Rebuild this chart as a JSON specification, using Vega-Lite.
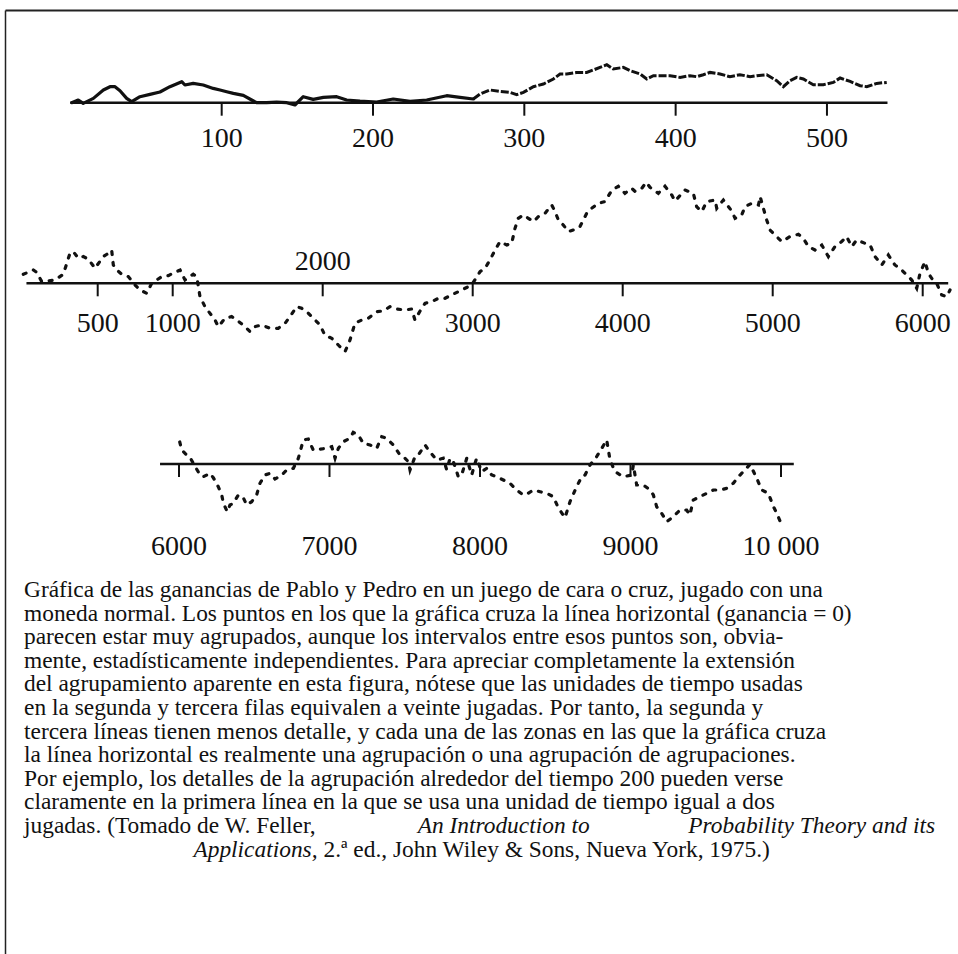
{
  "$schema": "https://vega.github.io/schema/vega-lite/v6.json",
  "width": 958,
  "height": 954,
  "autosize": {"type": "fit", "contains": "padding"},
  "padding": {"left": 5, "top": 10, "right": 0, "bottom": 0},
  "background": "white",
  "config": {"view": {"stroke": null}, "text": {"font": "Liberation Serif", "color": "#111"}},
  "datasets": {
    "fila1": [
      {"tiempo": 0.9, "ganancia": 0}, {"tiempo": 5.2, "ganancia": 2.7}, {"tiempo": 8.5, "ganancia": -0.7}, {"tiempo": 15.2, "ganancia": 4.3},
      {"tiempo": 21.8, "ganancia": 12.7}, {"tiempo": 26.2, "ganancia": 16}, {"tiempo": 29.5, "ganancia": 16}, {"tiempo": 32.8, "ganancia": 12},
      {"tiempo": 37.2, "ganancia": 4.3}, {"tiempo": 40.5, "ganancia": 1}, {"tiempo": 46, "ganancia": 6}, {"tiempo": 52.6, "ganancia": 8.3},
      {"tiempo": 59.2, "ganancia": 10.7}, {"tiempo": 65.8, "ganancia": 16}, {"tiempo": 73.6, "ganancia": 21}, {"tiempo": 75.7, "ganancia": 17.7},
      {"tiempo": 81.2, "ganancia": 19.3}, {"tiempo": 87.8, "ganancia": 17.7}, {"tiempo": 94.4, "ganancia": 14.3}, {"tiempo": 98.9, "ganancia": 12.7},
      {"tiempo": 103.3, "ganancia": 11}, {"tiempo": 107.7, "ganancia": 9.3}, {"tiempo": 114.3, "ganancia": 7.3}, {"tiempo": 119.8, "ganancia": 2.7},
      {"tiempo": 123.1, "ganancia": 0}, {"tiempo": 129.7, "ganancia": 0}, {"tiempo": 136.3, "ganancia": 0.5}, {"tiempo": 143, "ganancia": 0},
      {"tiempo": 148.4, "ganancia": -2.3}, {"tiempo": 153.9, "ganancia": 6}, {"tiempo": 160.5, "ganancia": 3.3}, {"tiempo": 167.2, "ganancia": 5.3},
      {"tiempo": 176, "ganancia": 6}, {"tiempo": 182.6, "ganancia": 2.7}, {"tiempo": 191.4, "ganancia": 1.5}, {"tiempo": 202.4, "ganancia": 0.7},
      {"tiempo": 213.4, "ganancia": 3.7}, {"tiempo": 224.5, "ganancia": 1.3}, {"tiempo": 235.5, "ganancia": 2.7}, {"tiempo": 248.7, "ganancia": 7},
      {"tiempo": 257.5, "ganancia": 5.3}, {"tiempo": 266.3, "ganancia": 3.7}, {"tiempo": 270.7, "ganancia": 8.7}, {"tiempo": 277.3, "ganancia": 12.7},
      {"tiempo": 283.9, "ganancia": 11.3}, {"tiempo": 290.5, "ganancia": 10.3}, {"tiempo": 295, "ganancia": 8}, {"tiempo": 299.4, "ganancia": 10.3},
      {"tiempo": 306, "ganancia": 16}, {"tiempo": 312.6, "ganancia": 18.7}, {"tiempo": 319.2, "ganancia": 23.7}, {"tiempo": 323.6, "ganancia": 28.7},
      {"tiempo": 328, "ganancia": 28.7}, {"tiempo": 334.6, "ganancia": 30.3}, {"tiempo": 341.2, "ganancia": 30.3}, {"tiempo": 345.6, "ganancia": 32.7},
      {"tiempo": 350, "ganancia": 35.3}, {"tiempo": 354.5, "ganancia": 38}, {"tiempo": 358.8, "ganancia": 33.7}, {"tiempo": 365.4, "ganancia": 35.3},
      {"tiempo": 369.9, "ganancia": 32}, {"tiempo": 376.5, "ganancia": 28.7}, {"tiempo": 380.9, "ganancia": 23.7}, {"tiempo": 385.3, "ganancia": 27},
      {"tiempo": 389.7, "ganancia": 27}, {"tiempo": 396.3, "ganancia": 27}, {"tiempo": 402.9, "ganancia": 25.3}, {"tiempo": 409.5, "ganancia": 27},
      {"tiempo": 413.9, "ganancia": 26}, {"tiempo": 418.3, "ganancia": 28}, {"tiempo": 422.7, "ganancia": 30.3}, {"tiempo": 429.3, "ganancia": 28.7},
      {"tiempo": 435.9, "ganancia": 26}, {"tiempo": 442.5, "ganancia": 28}, {"tiempo": 449.2, "ganancia": 26}, {"tiempo": 453.6, "ganancia": 27},
      {"tiempo": 460.2, "ganancia": 28}, {"tiempo": 466.8, "ganancia": 22}, {"tiempo": 471.2, "ganancia": 16}, {"tiempo": 475.6, "ganancia": 22},
      {"tiempo": 480, "ganancia": 25.3}, {"tiempo": 484.4, "ganancia": 23.7}, {"tiempo": 491, "ganancia": 18}, {"tiempo": 497.6, "ganancia": 18},
      {"tiempo": 504.2, "ganancia": 20.3}, {"tiempo": 508.7, "ganancia": 24.7}, {"tiempo": 515.3, "ganancia": 21.3}, {"tiempo": 521.9, "ganancia": 17},
      {"tiempo": 526.3, "ganancia": 16}, {"tiempo": 532.9, "ganancia": 19.3}, {"tiempo": 539.5, "ganancia": 20.3}
    ],
    "fila2": [
      {"tiempo": 4, "ganancia": 9}, {"tiempo": 71, "ganancia": 13.3}, {"tiempo": 93, "ganancia": 11}, {"tiempo": 127, "ganancia": 1.7},
      {"tiempo": 171, "ganancia": 2.3}, {"tiempo": 215, "ganancia": 3.3}, {"tiempo": 271, "ganancia": 9}, {"tiempo": 315, "ganancia": 30},
      {"tiempo": 337, "ganancia": 31.7}, {"tiempo": 371, "ganancia": 25}, {"tiempo": 404, "ganancia": 26.7}, {"tiempo": 437, "ganancia": 24.3},
      {"tiempo": 482, "ganancia": 15}, {"tiempo": 537, "ganancia": 26.7}, {"tiempo": 571, "ganancia": 30}, {"tiempo": 593, "ganancia": 33.3},
      {"tiempo": 604, "ganancia": 18.3}, {"tiempo": 627, "ganancia": 13.3}, {"tiempo": 660, "ganancia": 9}, {"tiempo": 704, "ganancia": 6.7},
      {"tiempo": 749, "ganancia": -1.7}, {"tiempo": 782, "ganancia": -6.7}, {"tiempo": 827, "ganancia": -10}, {"tiempo": 860, "ganancia": 0},
      {"tiempo": 927, "ganancia": 6.7}, {"tiempo": 971, "ganancia": 7.7}, {"tiempo": 1015, "ganancia": 11}, {"tiempo": 1049, "ganancia": 13.3},
      {"tiempo": 1082, "ganancia": 3.3}, {"tiempo": 1137, "ganancia": 9}, {"tiempo": 1160, "ganancia": 6.7}, {"tiempo": 1182, "ganancia": -13.3},
      {"tiempo": 1215, "ganancia": -23.3}, {"tiempo": 1282, "ganancia": -36.7}, {"tiempo": 1304, "ganancia": -43.3}, {"tiempo": 1349, "ganancia": -35},
      {"tiempo": 1393, "ganancia": -33.3}, {"tiempo": 1427, "ganancia": -36.7}, {"tiempo": 1482, "ganancia": -43.3}, {"tiempo": 1515, "ganancia": -48.3},
      {"tiempo": 1549, "ganancia": -43.3}, {"tiempo": 1593, "ganancia": -41.7}, {"tiempo": 1649, "ganancia": -45}, {"tiempo": 1704, "ganancia": -45},
      {"tiempo": 1749, "ganancia": -40}, {"tiempo": 1782, "ganancia": -33.3}, {"tiempo": 1827, "ganancia": -23.3}, {"tiempo": 1860, "ganancia": -25},
      {"tiempo": 1904, "ganancia": -30}, {"tiempo": 1949, "ganancia": -36.7}, {"tiempo": 1982, "ganancia": -41.7}, {"tiempo": 2015, "ganancia": -52},
      {"tiempo": 2060, "ganancia": -55}, {"tiempo": 2104, "ganancia": -61.7}, {"tiempo": 2149, "ganancia": -68.3}, {"tiempo": 2182, "ganancia": -56.7},
      {"tiempo": 2215, "ganancia": -40}, {"tiempo": 2260, "ganancia": -36.7}, {"tiempo": 2304, "ganancia": -35}, {"tiempo": 2360, "ganancia": -28.3},
      {"tiempo": 2404, "ganancia": -27.7}, {"tiempo": 2449, "ganancia": -23.3}, {"tiempo": 2493, "ganancia": -25.7}, {"tiempo": 2549, "ganancia": -26.7},
      {"tiempo": 2593, "ganancia": -25.7}, {"tiempo": 2615, "ganancia": -36.7}, {"tiempo": 2649, "ganancia": -27.7}, {"tiempo": 2682, "ganancia": -20},
      {"tiempo": 2727, "ganancia": -18.3}, {"tiempo": 2771, "ganancia": -15}, {"tiempo": 2815, "ganancia": -15}, {"tiempo": 2860, "ganancia": -11.7},
      {"tiempo": 2904, "ganancia": -8.3}, {"tiempo": 2949, "ganancia": -5}, {"tiempo": 2993, "ganancia": -1.7}, {"tiempo": 3049, "ganancia": 11.7},
      {"tiempo": 3082, "ganancia": 15}, {"tiempo": 3115, "ganancia": 23.3}, {"tiempo": 3149, "ganancia": 33.3}, {"tiempo": 3182, "ganancia": 41.7},
      {"tiempo": 3227, "ganancia": 38.3}, {"tiempo": 3260, "ganancia": 40}, {"tiempo": 3282, "ganancia": 55}, {"tiempo": 3304, "ganancia": 65},
      {"tiempo": 3338, "ganancia": 68.3}, {"tiempo": 3371, "ganancia": 65}, {"tiempo": 3404, "ganancia": 61.7}, {"tiempo": 3438, "ganancia": 66.7},
      {"tiempo": 3482, "ganancia": 70}, {"tiempo": 3527, "ganancia": 78.3}, {"tiempo": 3549, "ganancia": 71.7}, {"tiempo": 3571, "ganancia": 63.3},
      {"tiempo": 3604, "ganancia": 58.3}, {"tiempo": 3638, "ganancia": 51.7}, {"tiempo": 3671, "ganancia": 53.3}, {"tiempo": 3715, "ganancia": 56.7},
      {"tiempo": 3760, "ganancia": 70}, {"tiempo": 3793, "ganancia": 75}, {"tiempo": 3838, "ganancia": 80}, {"tiempo": 3882, "ganancia": 81.7},
      {"tiempo": 3927, "ganancia": 93}, {"tiempo": 3971, "ganancia": 97}, {"tiempo": 4015, "ganancia": 90}, {"tiempo": 4060, "ganancia": 95},
      {"tiempo": 4082, "ganancia": 92}, {"tiempo": 4127, "ganancia": 95}, {"tiempo": 4157, "ganancia": 101}, {"tiempo": 4182, "ganancia": 96},
      {"tiempo": 4238, "ganancia": 90}, {"tiempo": 4282, "ganancia": 97}, {"tiempo": 4327, "ganancia": 88.3}, {"tiempo": 4349, "ganancia": 82.3},
      {"tiempo": 4415, "ganancia": 93.3}, {"tiempo": 4471, "ganancia": 90}, {"tiempo": 4493, "ganancia": 76.7}, {"tiempo": 4527, "ganancia": 71.7},
      {"tiempo": 4560, "ganancia": 81.7}, {"tiempo": 4616, "ganancia": 83.3}, {"tiempo": 4627, "ganancia": 75}, {"tiempo": 4671, "ganancia": 83.3},
      {"tiempo": 4727, "ganancia": 72.3}, {"tiempo": 4749, "ganancia": 65}, {"tiempo": 4793, "ganancia": 68.3}, {"tiempo": 4816, "ganancia": 76.7},
      {"tiempo": 4860, "ganancia": 80}, {"tiempo": 4905, "ganancia": 78.3}, {"tiempo": 4916, "ganancia": 86.7}, {"tiempo": 4960, "ganancia": 63.3},
      {"tiempo": 4982, "ganancia": 53.3}, {"tiempo": 5015, "ganancia": 48.3}, {"tiempo": 5060, "ganancia": 41.7}, {"tiempo": 5115, "ganancia": 46.7},
      {"tiempo": 5171, "ganancia": 49}, {"tiempo": 5204, "ganancia": 45}, {"tiempo": 5238, "ganancia": 36.7}, {"tiempo": 5282, "ganancia": 33.3},
      {"tiempo": 5327, "ganancia": 38.3}, {"tiempo": 5371, "ganancia": 26.7}, {"tiempo": 5415, "ganancia": 36.7}, {"tiempo": 5460, "ganancia": 41.7},
      {"tiempo": 5493, "ganancia": 46.7}, {"tiempo": 5527, "ganancia": 36.7}, {"tiempo": 5560, "ganancia": 43.3}, {"tiempo": 5615, "ganancia": 40},
      {"tiempo": 5649, "ganancia": 38.3}, {"tiempo": 5682, "ganancia": 26.7}, {"tiempo": 5727, "ganancia": 18.3}, {"tiempo": 5771, "ganancia": 28.3},
      {"tiempo": 5815, "ganancia": 18.3}, {"tiempo": 5860, "ganancia": 13.3}, {"tiempo": 5893, "ganancia": 8.3}, {"tiempo": 5927, "ganancia": 3.3},
      {"tiempo": 5960, "ganancia": -5}, {"tiempo": 5982, "ganancia": 10}, {"tiempo": 6015, "ganancia": 21.7}, {"tiempo": 6038, "ganancia": 10},
      {"tiempo": 6060, "ganancia": 5}, {"tiempo": 6093, "ganancia": 0}, {"tiempo": 6127, "ganancia": -11.7}, {"tiempo": 6160, "ganancia": -13.3},
      {"tiempo": 6182, "ganancia": -6.7}
    ],
    "fila3": [
      {"tiempo": 6005, "ganancia": 22}, {"tiempo": 6018, "ganancia": 14}, {"tiempo": 6051, "ganancia": 9}, {"tiempo": 6073, "ganancia": 6.7},
      {"tiempo": 6095, "ganancia": 0.7}, {"tiempo": 6140, "ganancia": -11}, {"tiempo": 6162, "ganancia": -12.7}, {"tiempo": 6206, "ganancia": -9.3},
      {"tiempo": 6228, "ganancia": -13.7}, {"tiempo": 6261, "ganancia": -22.7}, {"tiempo": 6284, "ganancia": -31}, {"tiempo": 6295, "ganancia": -39.3},
      {"tiempo": 6321, "ganancia": -47.7}, {"tiempo": 6339, "ganancia": -41}, {"tiempo": 6361, "ganancia": -39.3}, {"tiempo": 6394, "ganancia": -31},
      {"tiempo": 6427, "ganancia": -33.7}, {"tiempo": 6450, "ganancia": -41}, {"tiempo": 6483, "ganancia": -37.7}, {"tiempo": 6516, "ganancia": -31},
      {"tiempo": 6538, "ganancia": -19.3}, {"tiempo": 6571, "ganancia": -11}, {"tiempo": 6605, "ganancia": -9.3}, {"tiempo": 6638, "ganancia": -15},
      {"tiempo": 6682, "ganancia": -11}, {"tiempo": 6716, "ganancia": -6}, {"tiempo": 6760, "ganancia": -4.3}, {"tiempo": 6782, "ganancia": 2.3},
      {"tiempo": 6793, "ganancia": 5.7}, {"tiempo": 6826, "ganancia": 24}, {"tiempo": 6859, "ganancia": 25}, {"tiempo": 6892, "ganancia": 14},
      {"tiempo": 6981, "ganancia": 15.7}, {"tiempo": 7015, "ganancia": 17.3}, {"tiempo": 7037, "ganancia": 5.7}, {"tiempo": 7059, "ganancia": 15.7},
      {"tiempo": 7092, "ganancia": 22.3}, {"tiempo": 7136, "ganancia": 25.7}, {"tiempo": 7158, "ganancia": 31.7}, {"tiempo": 7191, "ganancia": 29},
      {"tiempo": 7225, "ganancia": 20.7}, {"tiempo": 7269, "ganancia": 19}, {"tiempo": 7314, "ganancia": 15.7}, {"tiempo": 7347, "ganancia": 27.3},
      {"tiempo": 7380, "ganancia": 25.7}, {"tiempo": 7424, "ganancia": 19}, {"tiempo": 7468, "ganancia": 9}, {"tiempo": 7502, "ganancia": 5.7},
      {"tiempo": 7524, "ganancia": 2.3}, {"tiempo": 7535, "ganancia": -6}, {"tiempo": 7568, "ganancia": 7.3}, {"tiempo": 7590, "ganancia": 9},
      {"tiempo": 7635, "ganancia": 19}, {"tiempo": 7657, "ganancia": 14}, {"tiempo": 7712, "ganancia": 4}, {"tiempo": 7756, "ganancia": 5.7},
      {"tiempo": 7779, "ganancia": -6}, {"tiempo": 7801, "ganancia": 5.7}, {"tiempo": 7823, "ganancia": 2.3}, {"tiempo": 7856, "ganancia": -12.7},
      {"tiempo": 7878, "ganancia": -11}, {"tiempo": 7912, "ganancia": 5.7}, {"tiempo": 7945, "ganancia": -11}, {"tiempo": 7967, "ganancia": 0.7},
      {"tiempo": 7978, "ganancia": 5.7}, {"tiempo": 8011, "ganancia": -7.7}, {"tiempo": 8045, "ganancia": -4.3}, {"tiempo": 8078, "ganancia": -11},
      {"tiempo": 8111, "ganancia": -12.7}, {"tiempo": 8155, "ganancia": -16}, {"tiempo": 8199, "ganancia": -19.3}, {"tiempo": 8244, "ganancia": -26},
      {"tiempo": 8288, "ganancia": -31}, {"tiempo": 8321, "ganancia": -29.3}, {"tiempo": 8354, "ganancia": -26}, {"tiempo": 8399, "ganancia": -27.7},
      {"tiempo": 8443, "ganancia": -29.3}, {"tiempo": 8487, "ganancia": -32.7}, {"tiempo": 8520, "ganancia": -43.7}, {"tiempo": 8565, "ganancia": -53.7},
      {"tiempo": 8598, "ganancia": -37.7}, {"tiempo": 8642, "ganancia": -22.7}, {"tiempo": 8676, "ganancia": -12.7}, {"tiempo": 8698, "ganancia": -11},
      {"tiempo": 8731, "ganancia": -1}, {"tiempo": 8775, "ganancia": 7.3}, {"tiempo": 8809, "ganancia": 15.7}, {"tiempo": 8842, "ganancia": 24},
      {"tiempo": 8864, "ganancia": 4}, {"tiempo": 8897, "ganancia": -7.7}, {"tiempo": 8952, "ganancia": -12.7}, {"tiempo": 9008, "ganancia": -11},
      {"tiempo": 9019, "ganancia": -1}, {"tiempo": 9041, "ganancia": -21}, {"tiempo": 9085, "ganancia": -21}, {"tiempo": 9130, "ganancia": -26},
      {"tiempo": 9152, "ganancia": -31}, {"tiempo": 9174, "ganancia": -42.7}, {"tiempo": 9207, "ganancia": -49.3}, {"tiempo": 9241, "ganancia": -57.7},
      {"tiempo": 9284, "ganancia": -52.7}, {"tiempo": 9329, "ganancia": -46}, {"tiempo": 9373, "ganancia": -46}, {"tiempo": 9395, "ganancia": -51},
      {"tiempo": 9417, "ganancia": -36}, {"tiempo": 9462, "ganancia": -32.7}, {"tiempo": 9506, "ganancia": -29.3}, {"tiempo": 9551, "ganancia": -26},
      {"tiempo": 9595, "ganancia": -26}, {"tiempo": 9639, "ganancia": -24.3}, {"tiempo": 9683, "ganancia": -19.3}, {"tiempo": 9728, "ganancia": -11},
      {"tiempo": 9761, "ganancia": -6}, {"tiempo": 9794, "ganancia": -0.3}, {"tiempo": 9839, "ganancia": -14.3}, {"tiempo": 9872, "ganancia": -26},
      {"tiempo": 9916, "ganancia": -29.3}, {"tiempo": 9950, "ganancia": -42.7}, {"tiempo": 9972, "ganancia": -49.3}, {"tiempo": 10005, "ganancia": -61}
    ],
    "marcas1": [
      {"tiempo": 100, "etiqueta": "100"}, {"tiempo": 200, "etiqueta": "200"}, {"tiempo": 300, "etiqueta": "300"},
      {"tiempo": 400, "etiqueta": "400"}, {"tiempo": 500, "etiqueta": "500"}
    ],
    "marcas2": [
      {"tiempo": 500, "etiqueta": "500"}, {"tiempo": 1000, "etiqueta": "1000"}, {"tiempo": 2000, "etiqueta": "2000"},
      {"tiempo": 3000, "etiqueta": "3000"}, {"tiempo": 4000, "etiqueta": "4000"}, {"tiempo": 5000, "etiqueta": "5000"},
      {"tiempo": 6000, "etiqueta": "6000"}
    ],
    "marcas3": [
      {"tiempo": 6000, "etiqueta": "6000"}, {"tiempo": 7000, "etiqueta": "7000"}, {"tiempo": 8000, "etiqueta": "8000"},
      {"tiempo": 9000, "etiqueta": "9000"}, {"tiempo": 10000, "etiqueta": "10 000"}
    ],
    "pie": [
      {"linea": 1, "parte": "normal", "texto": "Gráfica de las ganancias de Pablo y Pedro en un juego de cara o cruz, jugado con una"},
      {"linea": 2, "parte": "normal", "texto": "moneda normal. Los puntos en los que la gráfica cruza la línea horizontal (ganancia = 0)"},
      {"linea": 3, "parte": "normal", "texto": "parecen estar muy agrupados, aunque los intervalos entre esos puntos son, obvia-"},
      {"linea": 4, "parte": "normal", "texto": "mente, estadísticamente independientes. Para apreciar completamente la extensión"},
      {"linea": 5, "parte": "normal", "texto": "del agrupamiento aparente en esta figura, nótese que las unidades de tiempo usadas"},
      {"linea": 6, "parte": "normal", "texto": "en la segunda y tercera filas equivalen a veinte jugadas. Por tanto, la segunda y"},
      {"linea": 7, "parte": "normal", "texto": "tercera líneas tienen menos detalle, y cada una de las zonas en las que la gráfica cruza"},
      {"linea": 8, "parte": "normal", "texto": "la línea horizontal es realmente una agrupación o una agrupación de agrupaciones."},
      {"linea": 9, "parte": "normal", "texto": "Por ejemplo, los detalles de la agrupación alrededor del tiempo 200 pueden verse"},
      {"linea": 10, "parte": "normal", "texto": "claramente en la primera línea en la que se usa una unidad de tiempo igual a dos"},
      {"linea": 11, "parte": "normal", "texto": "jugadas. (Tomado de W. Feller,"},
      {"linea": 11, "parte": "cursiva_medio", "texto": "An Introduction to"},
      {"linea": 11, "parte": "cursiva_fin", "texto": "Probability Theory and its"},
      {"linea": 12, "parte": "cursiva_ini", "texto": "Applications,"},
      {"linea": 12, "parte": "cola", "texto": "2.ª ed., John Wiley & Sons, Nueva York, 1975.)"}
    ]
  },
  "layer": [
    {
      "layer": [
        {
          "data": {"name": "fila1"},
          "transform": [{"filter": "datum.tiempo <= 268"}],
          "mark": {"type": "line", "color": "#111", "strokeWidth": 3.2, "strokeJoin": "round", "strokeCap": "round"},
          "encoding": {
            "x": {"field": "tiempo", "type": "quantitative", "scale": {"domain": [-43.2, 586.6], "nice": false, "zero": false}, "axis": null},
            "y": {"field": "ganancia", "type": "quantitative", "scale": {"domain": [-851.3, 92.7], "nice": false, "zero": false}, "axis": null}
          }
        },
        {
          "data": {"name": "fila1"},
          "transform": [{"filter": "datum.tiempo >= 266"}],
          "mark": {"type": "line", "color": "#111", "strokeWidth": 3, "strokeDash": [8, 2]},
          "encoding": {
            "x": {"field": "tiempo", "type": "quantitative", "axis": null},
            "y": {"field": "ganancia", "type": "quantitative", "axis": null}
          }
        },
        {
          "data": {"values": [{}]},
          "mark": {"type": "rule", "color": "#111", "strokeWidth": 2.5},
          "encoding": {
            "x": {"datum": 0, "type": "quantitative", "axis": null},
            "x2": {"datum": 540},
            "y": {"datum": 0, "type": "quantitative", "axis": null}
          }
        },
        {
          "data": {"name": "marcas1"},
          "mark": {"type": "rule", "color": "#111", "strokeWidth": 2},
          "encoding": {
            "x": {"field": "tiempo", "type": "quantitative", "axis": null},
            "y": {"datum": 0, "type": "quantitative", "axis": null},
            "y2": {"datum": -13}
          }
        },
        {
          "data": {"name": "marcas1"},
          "mark": {"type": "text", "fontSize": 28, "baseline": "alphabetic", "dy": 44},
          "encoding": {
            "x": {"field": "tiempo", "type": "quantitative", "axis": null},
            "y": {"datum": 0, "type": "quantitative", "axis": null},
            "text": {"field": "etiqueta"}
          }
        }
      ]
    },
    {
      "layer": [
        {
          "data": {"name": "fila2"},
          "mark": {"type": "line", "color": "#111", "strokeWidth": 3.2, "strokeDash": [3, 8], "strokeCap": "round"},
          "encoding": {
            "x": {"field": "tiempo", "type": "quantitative", "scale": {"domain": [-118, 6235.3], "nice": false, "zero": false}, "axis": null},
            "y": {"field": "ganancia", "type": "quantitative", "scale": {"domain": [-670.7, 273.3], "nice": false, "zero": false}, "axis": null}
          }
        },
        {
          "data": {"values": [{}]},
          "mark": {"type": "rule", "color": "#111", "strokeWidth": 2.5},
          "encoding": {
            "x": {"datum": 25, "type": "quantitative", "axis": null},
            "x2": {"datum": 6170},
            "y": {"datum": 0, "type": "quantitative", "axis": null}
          }
        },
        {
          "data": {"name": "marcas2"},
          "mark": {"type": "rule", "color": "#111", "strokeWidth": 2},
          "encoding": {
            "x": {"field": "tiempo", "type": "quantitative", "axis": null},
            "y": {"datum": 0, "type": "quantitative", "axis": null},
            "y2": {"datum": -13}
          }
        },
        {
          "data": {"name": "marcas2"},
          "transform": [{"filter": "datum.tiempo != 2000"}],
          "mark": {"type": "text", "fontSize": 28, "baseline": "alphabetic", "dy": 49},
          "encoding": {
            "x": {"field": "tiempo", "type": "quantitative", "axis": null},
            "y": {"datum": 0, "type": "quantitative", "axis": null},
            "text": {"field": "etiqueta"}
          }
        },
        {
          "data": {"name": "marcas2"},
          "transform": [{"filter": "datum.tiempo == 2000"}],
          "mark": {"type": "text", "fontSize": 28, "baseline": "alphabetic", "dy": -13},
          "encoding": {
            "x": {"field": "tiempo", "type": "quantitative", "axis": null},
            "y": {"datum": 0, "type": "quantitative", "axis": null},
            "text": {"field": "etiqueta"}
          }
        }
      ]
    },
    {
      "layer": [
        {
          "data": {"name": "fila3"},
          "mark": {"type": "line", "color": "#111", "strokeWidth": 3.2, "strokeDash": [3, 8], "strokeCap": "round"},
          "encoding": {
            "x": {"field": "tiempo", "type": "quantitative", "scale": {"domain": [4843.9, 11176.1], "nice": false, "zero": false}, "axis": null},
            "y": {"field": "ganancia", "type": "quantitative", "scale": {"domain": [-490, 454], "nice": false, "zero": false}, "axis": null}
          }
        },
        {
          "data": {"values": [{}]},
          "mark": {"type": "rule", "color": "#111", "strokeWidth": 2.5},
          "encoding": {
            "x": {"datum": 5874, "type": "quantitative", "axis": null},
            "x2": {"datum": 10085},
            "y": {"datum": 0, "type": "quantitative", "axis": null}
          }
        },
        {
          "data": {"name": "marcas3"},
          "mark": {"type": "rule", "color": "#111", "strokeWidth": 2},
          "encoding": {
            "x": {"field": "tiempo", "type": "quantitative", "axis": null},
            "y": {"datum": 0, "type": "quantitative", "axis": null},
            "y2": {"datum": -13}
          }
        },
        {
          "data": {"name": "marcas3"},
          "mark": {"type": "text", "fontSize": 28, "baseline": "alphabetic", "dy": 91},
          "encoding": {
            "x": {"field": "tiempo", "type": "quantitative", "axis": null},
            "y": {"datum": 0, "type": "quantitative", "axis": null},
            "text": {"field": "etiqueta"}
          }
        }
      ]
    },
    {
      "layer": [
        {
          "data": {"name": "pie"},
          "transform": [{"filter": "datum.parte == 'normal'"}],
          "mark": {"type": "text", "fontSize": 23.4, "align": "left", "baseline": "middle"},
          "encoding": {
            "x": {"datum": 0, "type": "quantitative", "scale": {"domain": [-0.02086, 1.02524], "nice": false, "zero": false},
                  "axis": {"orient": "top", "labels": false, "ticks": false, "grid": false, "title": null, "domainColor": "#222", "domainWidth": 1.8}},
            "y": {"field": "linea", "type": "quantitative", "scale": {"domain": [-23.576, 16.424], "reverse": true, "nice": false, "zero": false},
                  "axis": {"orient": "left", "labels": false, "ticks": false, "grid": false, "title": null, "domainColor": "#222", "domainWidth": 1.5}},
            "text": {"field": "texto"}
          }
        },
        {
          "data": {"name": "pie"},
          "transform": [{"filter": "datum.parte == 'cursiva_medio'"}],
          "mark": {"type": "text", "fontSize": 23.4, "align": "center", "baseline": "middle", "fontStyle": "italic"},
          "encoding": {
            "x": {"datum": 0.5265, "type": "quantitative"},
            "y": {"field": "linea", "type": "quantitative"},
            "text": {"field": "texto"}
          }
        },
        {
          "data": {"name": "pie"},
          "transform": [{"filter": "datum.parte == 'cursiva_fin'"}],
          "mark": {"type": "text", "fontSize": 23.4, "align": "right", "baseline": "middle", "fontStyle": "italic"},
          "encoding": {
            "x": {"datum": 1, "type": "quantitative"},
            "y": {"field": "linea", "type": "quantitative"},
            "text": {"field": "texto"}
          }
        },
        {
          "data": {"name": "pie"},
          "transform": [{"filter": "datum.parte == 'cursiva_ini'"}],
          "mark": {"type": "text", "fontSize": 23.4, "align": "right", "baseline": "middle", "fontStyle": "italic"},
          "encoding": {
            "x": {"datum": 0.3222, "type": "quantitative"},
            "y": {"field": "linea", "type": "quantitative"},
            "text": {"field": "texto"}
          }
        },
        {
          "data": {"name": "pie"},
          "transform": [{"filter": "datum.parte == 'cola'"}],
          "mark": {"type": "text", "fontSize": 23.4, "align": "left", "baseline": "middle", "dx": 6},
          "encoding": {
            "x": {"datum": 0.3222, "type": "quantitative"},
            "y": {"field": "linea", "type": "quantitative"},
            "text": {"field": "texto"}
          }
        }
      ]
    }
  ],
  "resolve": {"scale": {"x": "independent", "y": "independent"}}
}
